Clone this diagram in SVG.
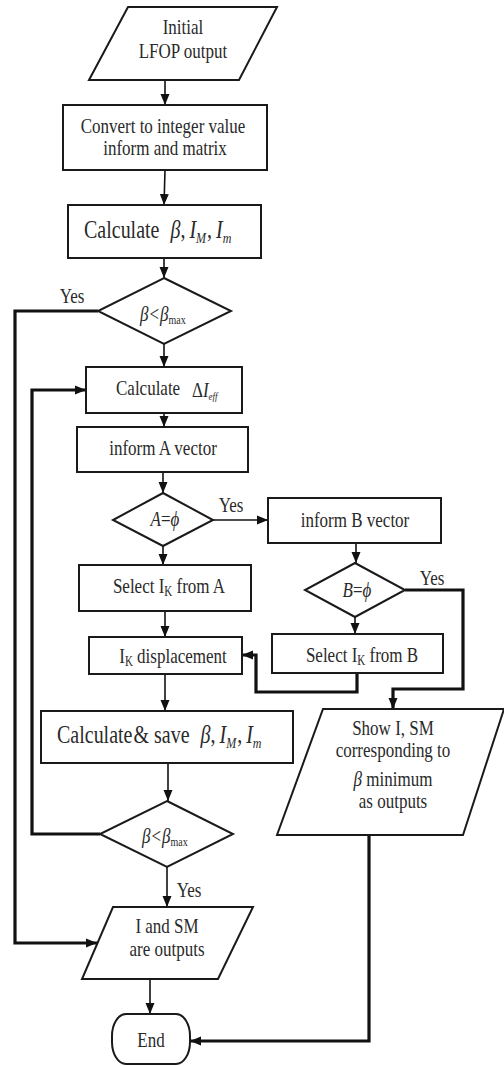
<svg xmlns="http://www.w3.org/2000/svg" width="504" height="1066" viewBox="0 0 504 1066">
<style>
.s{fill:#fff;stroke:#1a1a1a;stroke-width:2}
.c{fill:none;stroke:#111;stroke-width:1.6}
.k{fill:none;stroke:#111;stroke-width:3.2}
.t{font-family:"Liberation Serif","Times New Roman",serif;font-size:17px;fill:#2a2a2a;text-anchor:middle}
.l{text-anchor:start}
.b{font-size:20px}
.i{font-style:italic}
</style>
<defs>
<marker id="a" markerUnits="userSpaceOnUse" markerWidth="12" markerHeight="12" viewBox="0 0 12 12" refX="11" refY="6" orient="auto">
<path d="M0,1.5 L11,6 L0,10.5 Z" fill="#111"/>
</marker>
</defs>
<rect width="504" height="1066" fill="#fff"/>
<g id="connectors">
<path class="c" d="M165,80 V105" marker-end="url(#a)"/>
<path class="c" d="M165,170 L164,205" marker-end="url(#a)"/>
<path class="c" d="M164,258 V278" marker-end="url(#a)"/>
<path class="c" d="M164,344 V367" marker-end="url(#a)"/>
<path class="c" d="M164,413 V427" marker-end="url(#a)"/>
<path class="c" d="M163,472 V493" marker-end="url(#a)"/>
<path class="c" d="M213,520 H268" marker-end="url(#a)"/>
<path class="c" d="M163,546 V565" marker-end="url(#a)"/>
<path class="c" d="M356,543 V563" marker-end="url(#a)"/>
<path class="c" d="M355,617 V634" marker-end="url(#a)"/>
<path class="c" d="M165,611 V637" marker-end="url(#a)"/>
<path class="c" d="M165,674 V711" marker-end="url(#a)"/>
<path class="c" d="M168,763 V801" marker-end="url(#a)"/>
<path class="c" d="M167,867 V907" marker-end="url(#a)"/>
<path class="c" d="M150,979 V1014" marker-end="url(#a)"/>
<path class="k" d="M98,311 H15 V943 H97" marker-end="url(#a)"/>
<path class="k" d="M100,834 H32 V390 H86" marker-end="url(#a)"/>
<path class="k" d="M405,590 H463 V689 H393 V709" marker-end="url(#a)"/>
<path class="k" d="M357,673 V692 H256 V655 H242" marker-end="url(#a)"/>
<path class="k" d="M369,835 V1041 H190" marker-end="url(#a)"/>
<text class="t" transform="translate(72,303) scale(1,1.25)">Yes</text>
<text class="t" transform="translate(231,512) scale(1,1.25)">Yes</text>
<text class="t" transform="translate(432,585) scale(1,1.25)">Yes</text>
<text class="t" transform="translate(189,897) scale(1,1.25)">Yes</text>
</g>
<g id="n_initial">
<polygon class="s" points="128,7 277,7 239,80 89,80"/>
<text class="t" transform="translate(183,34) scale(1,1.25)">Initial</text>
<text class="t" transform="translate(183,58) scale(1,1.25)">LFOP output</text>
</g>
<g id="n_convert">
<rect class="s" x="63" y="105" width="204" height="65"/>
<text class="t" transform="translate(163,133) scale(1,1.25)">Convert to integer value</text>
<text class="t" transform="translate(165,155) scale(1,1.25)">inform and matrix</text>
</g>
<g id="n_calc1">
<rect class="s" x="68" y="205" width="193" height="53"/>
<text class="t b l" transform="translate(84,238) scale(1,1.25)">Calculate <tspan class="i" dx="6">β</tspan>,<tspan class="i" dx="4">I</tspan><tspan class="i" font-size="12" dy="4">M</tspan><tspan dy="-4" dx="1">,</tspan><tspan class="i" dx="4">I</tspan><tspan class="i" font-size="12" dy="4">m</tspan></text>
</g>
<g id="n_dec1">
<polygon class="s" points="164,278 231,311 164,344 98,311"/>
<text class="t l" transform="translate(140,321) scale(1,1.25)"><tspan class="i">β</tspan><tspan dx="1">&lt;</tspan><tspan class="i" dx="1">β</tspan><tspan font-size="10" dy="2">max</tspan></text>
</g>
<g id="n_delta">
<rect class="s" x="86" y="367" width="156" height="46"/>
<text class="t l" transform="translate(116,395) scale(1,1.25)">Calculate</text>
<text class="t l" transform="translate(192,397) scale(1,1.25)" font-size="14">Δ<tspan class="i">I</tspan><tspan class="i" font-size="9" dy="2">eff</tspan></text>
</g>
<g id="n_informA">
<rect class="s" x="77" y="427" width="171" height="45"/>
<text class="t" transform="translate(163,455) scale(1,1.25)">inform A vector</text>
</g>
<g id="n_decA">
<polygon class="s" points="163,493 213,520 163,546 113,520"/>
<text class="t" transform="translate(165,526) scale(1,1.25)"><tspan class="i">A</tspan>=<tspan class="i">ϕ</tspan></text>
</g>
<g id="n_informB">
<rect class="s" x="268" y="498" width="173" height="45"/>
<text class="t" transform="translate(355,527) scale(1,1.25)">inform B vector</text>
</g>
<g id="n_selA">
<rect class="s" x="79" y="565" width="172" height="46"/>
<text class="t" transform="translate(169,593) scale(1,1.25)">Select I<tspan font-size="11" dy="2">K</tspan><tspan dy="-2"> from A</tspan></text>
</g>
<g id="n_decB">
<polygon class="s" points="355,563 405,590 355,617 305,590"/>
<text class="t" transform="translate(357,597) scale(1,1.25)"><tspan class="i">B</tspan>=<tspan class="i">ϕ</tspan></text>
</g>
<g id="n_selB">
<rect class="s" x="272" y="634" width="171" height="39"/>
<text class="t" transform="translate(362,662) scale(1,1.25)">Select I<tspan font-size="11" dy="2">K</tspan><tspan dy="-2"> from B</tspan></text>
</g>
<g id="n_disp">
<rect class="s" x="89" y="637" width="153" height="37"/>
<text class="t" transform="translate(173,663) scale(1,1.25)">I<tspan font-size="11" dy="2">K</tspan><tspan dy="-2"> displacement</tspan></text>
</g>
<g id="n_calc2">
<rect class="s" x="41" y="711" width="252" height="52"/>
<text class="t b l" transform="translate(57,743) scale(1,1.25)">Calculate<tspan dx="1">&amp;</tspan> save <tspan class="i" dx="6">β</tspan>,<tspan class="i" dx="4">I</tspan><tspan class="i" font-size="12" dy="4">M</tspan><tspan dy="-4" dx="1">,</tspan><tspan class="i" dx="4">I</tspan><tspan class="i" font-size="12" dy="4">m</tspan></text>
</g>
<g id="n_show">
<polygon class="s" points="323,709 504,709 463,835 277,835"/>
<text class="t" transform="translate(393,735) scale(1,1.25)">Show I, SM</text>
<text class="t" transform="translate(393,757) scale(1,1.25)">corresponding to</text>
<text class="t" transform="translate(393,786) scale(1,1.25)"><tspan class="i">β</tspan> minimum</text>
<text class="t" transform="translate(393,808) scale(1,1.25)">as outputs</text>
</g>
<g id="n_dec2">
<polygon class="s" points="167,801 233,834 167,867 100,834"/>
<text class="t l" transform="translate(142,843) scale(1,1.25)"><tspan class="i">β</tspan><tspan dx="1">&lt;</tspan><tspan class="i" dx="1">β</tspan><tspan font-size="10" dy="2">max</tspan></text>
</g>
<g id="n_outputs">
<polygon class="s" points="113,907 253,907 218,979 82,979"/>
<text class="t" transform="translate(167,933) scale(1,1.25)">I and SM</text>
<text class="t" transform="translate(167,956) scale(1,1.25)">are outputs</text>
</g>
<g id="n_end">
<rect class="s" x="112" y="1014" width="78" height="50" rx="14" ry="22"/>
<text class="t" transform="translate(151,1047) scale(1,1.25)">End</text>
</g>
</svg>
